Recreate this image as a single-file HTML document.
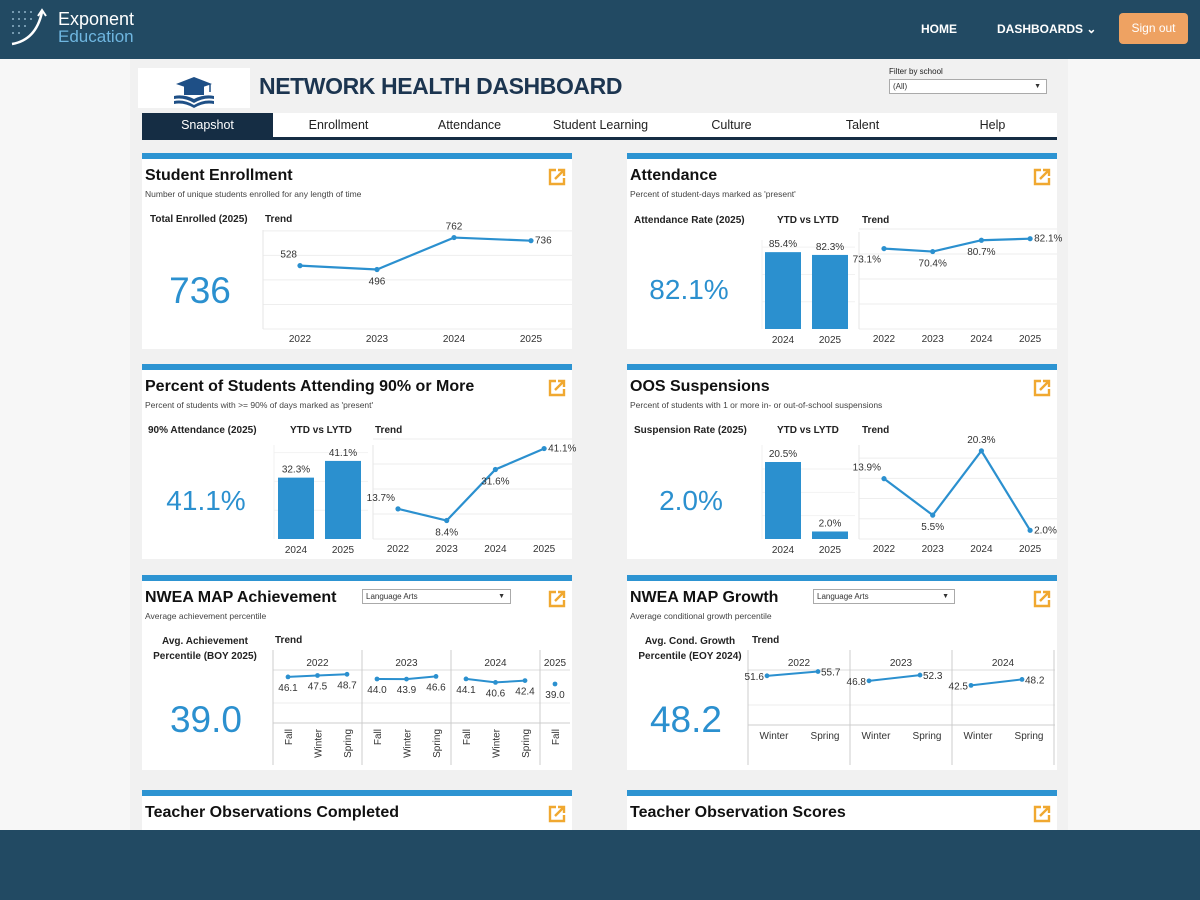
<!DOCTYPE html>
<html><head><meta charset="utf-8">
<style>
*{box-sizing:border-box;margin:0;padding:0}
body{width:1200px;height:900px;overflow:hidden;background:#f7f7f7;font-family:"Liberation Sans",sans-serif;position:relative;color:#222}
.abs{position:absolute}
#topbar{left:0;top:0;width:1200px;height:59px;background:#224a63}
#panel{left:130px;top:59px;width:938px;height:780px;background:#f1f1f1}
#bottom{left:0;top:830px;width:1200px;height:70px;background:#224a63}
.card{position:absolute;width:430px;background:#fff}
.stripe{position:absolute;left:0;top:0;width:100%;height:6px;background:#2d94d2}
.ttl{position:absolute;left:3px;top:14px;font-size:16px;font-weight:bold;color:#111;white-space:nowrap}
.sub{position:absolute;left:3px;top:36px;font-size:8.5px;color:#444;white-space:nowrap}
.kl{position:absolute;font-size:10px;font-weight:bold;color:#222;white-space:nowrap}
.big{position:absolute;font-size:37px;color:#2b90cf;text-align:center;width:130px}
.tab{position:absolute;top:113px;height:24px;width:131px;font-size:12.5px;text-align:center;line-height:24px;color:#222;background:#fff}
.dd{position:absolute;height:15px;border:1px solid #aaa;background:#fff;font-size:8px;line-height:13px;padding-left:3px;color:#333}
.dd span{position:absolute;right:5px;top:0;font-size:7px}
</style></head><body>
<div id="topbar" class="abs"></div>
<div class="abs" style="left:10px;top:8px;width:140px;height:40px">
<svg width="44" height="40" style="position:absolute;left:0;top:0">
<g fill="#8fb3c8"><circle cx="3" cy="4" r="1"/><circle cx="9" cy="4" r="1"/><circle cx="15" cy="4" r="1"/><circle cx="21" cy="4" r="1"/><circle cx="3" cy="11" r="1"/><circle cx="9" cy="11" r="1"/><circle cx="15" cy="11" r="1"/><circle cx="21" cy="11" r="1"/><circle cx="3" cy="18" r="1"/><circle cx="9" cy="18" r="1"/><circle cx="15" cy="18" r="1"/><circle cx="3" cy="25" r="1"/><circle cx="9" cy="25" r="1"/></g>
<path d="M2 36 Q26 32 32 4" stroke="#fff" stroke-width="2.5" fill="none"/><path d="M28 8 L32 2 L36 8" stroke="#fff" stroke-width="2" fill="none"/></svg>
<div style="position:absolute;left:48px;top:1px;color:#fff;font-size:18px">Exponent</div>
<div style="position:absolute;left:48px;top:19px;color:#6fb6e0;font-size:17px">Education</div>
</div>
<div class="abs" style="left:921px;top:22px;color:#fff;font-size:12px;font-weight:bold">HOME</div>
<div class="abs" style="left:997px;top:22px;color:#fff;font-size:12px;font-weight:bold">DASHBOARDS &#8964;</div>
<div class="abs" style="left:1119px;top:13px;width:69px;height:31px;background:#eea262;border-radius:4px;color:#fff;font-size:12px;text-align:center;line-height:31px">Sign out</div>

<div id="panel" class="abs"></div>
<div class="abs" style="left:138px;top:68px;width:112px;height:40px;background:#fff">
<svg width="112" height="40"><path d="M38 16 L56 9 L74 16 L56 22 Z" fill="#1e4f86"/><rect x="46" y="18" width="20" height="9" fill="#1e4f86"/><line x1="72" y1="16" x2="72" y2="24" stroke="#1e4f86" stroke-width="1.5"/><path d="M36 28 Q46 26 56 31 Q66 26 76 28 L76 31 Q66 29 56 35 Q46 29 36 31Z" fill="#1e4f86"/><path d="M36 33 Q46 31 56 37 Q66 31 76 33 L76 36 Q66 34 56 40 Q46 34 36 36Z" fill="#1e4f86"/></svg></div>
<div class="abs" style="left:259px;top:73px;font-size:23px;font-weight:bold;color:#1c3550;letter-spacing:-0.4px">NETWORK HEALTH DASHBOARD</div>
<div class="abs" style="left:889px;top:67px;font-size:8px;color:#222">Filter by school</div>
<div class="dd" style="left:889px;top:79px;width:158px">(All)<span>▼</span></div>

<div class="tab" style="left:142px;background:#152d44;color:#fff">Snapshot</div>
<div class="tab" style="left:273px">Enrollment</div>
<div class="tab" style="left:404px">Attendance</div>
<div class="tab" style="left:535px">Student Learning</div>
<div class="tab" style="left:666px">Culture</div>
<div class="tab" style="left:797px">Talent</div>
<div class="tab" style="left:928px;width:129px">Help</div>
<div class="abs" style="left:142px;top:137px;width:915px;height:3px;background:#152d44"></div>

<div class="card" style="left:142px;top:153px;height:196px"><div class="stripe"></div><div class="ttl">Student Enrollment</div><div class="sub">Number of unique students enrolled for any length of time</div><div class="kl" style="left:8px;top:61px">Total Enrolled (2025)</div><div class="kl" style="left:123px;top:61px">Trend</div><div class="big" style="left:-7px;top:117px">736</div></div>
<div class="card" style="left:627px;top:153px;height:196px"><div class="stripe"></div><div class="ttl">Attendance</div><div class="sub">Percent of student-days marked as 'present'</div><div class="kl" style="left:7px;top:62px">Attendance Rate (2025)</div><div class="kl" style="left:150px;top:62px">YTD vs LYTD</div><div class="kl" style="left:235px;top:62px">Trend</div><div class="big" style="left:-3px;top:121px;font-size:28px">82.1%</div></div>
<div class="card" style="left:142px;top:364px;height:195px"><div class="stripe"></div><div class="ttl">Percent of Students Attending 90% or More</div><div class="sub">Percent of students with &gt;= 90% of days marked as 'present'</div><div class="kl" style="left:6px;top:61px">90% Attendance (2025)</div><div class="kl" style="left:148px;top:61px">YTD vs LYTD</div><div class="kl" style="left:233px;top:61px">Trend</div><div class="big" style="left:-1px;top:121px;font-size:28px">41.1%</div></div>
<div class="card" style="left:627px;top:364px;height:195px"><div class="stripe"></div><div class="ttl">OOS Suspensions</div><div class="sub">Percent of students with 1 or more in- or out-of-school suspensions</div><div class="kl" style="left:7px;top:61px">Suspension Rate (2025)</div><div class="kl" style="left:150px;top:61px">YTD vs LYTD</div><div class="kl" style="left:235px;top:61px">Trend</div><div class="big" style="left:-1px;top:121px;font-size:28px">2.0%</div></div>
<div class="card" style="left:142px;top:575px;height:195px"><div class="stripe"></div><div class="ttl">NWEA MAP Achievement</div><div class="sub">Average achievement percentile</div><div class="kl" style="left:8px;top:59px;text-align:center;line-height:15px;width:110px">Avg. Achievement<br>Percentile (BOY 2025)</div><div class="kl" style="left:133px;top:60px">Trend</div><div class="big" style="left:-1px;top:124px">39.0</div></div>
<div class="dd" style="left:362px;top:589px;width:149px">Language Arts<span>▼</span></div>
<div class="card" style="left:627px;top:575px;height:195px"><div class="stripe"></div><div class="ttl">NWEA MAP Growth</div><div class="sub">Average conditional growth percentile</div><div class="kl" style="left:8px;top:59px;text-align:center;line-height:15px;width:110px">Avg. Cond. Growth<br>Percentile (EOY 2024)</div><div class="kl" style="left:125px;top:60px">Trend</div><div class="big" style="left:-6px;top:124px">48.2</div></div>
<div class="dd" style="left:813px;top:589px;width:142px">Language Arts<span>▼</span></div>
<div class="card" style="left:142px;top:790px;height:60px"><div class="stripe"></div><div class="ttl">Teacher Observations Completed</div></div>
<div class="card" style="left:627px;top:790px;height:60px"><div class="stripe"></div><div class="ttl">Teacher Observation Scores</div></div>
<div id="bottom" class="abs"></div>

<svg id="ov" class="abs" style="left:0;top:0;pointer-events:none" width="1200" height="830" font-family="Liberation Sans, sans-serif" font-size="10"></svg>

<script>
const enrollYears=['2022','2023','2024','2025'];
const enrollVals=[528,496,762,736];
const attBarCats=['2024','2025'];
const attBarVals=[85.4,82.3];
const attTrendYears=['2022','2023','2024','2025'];
const attTrendVals=[73.1,70.4,80.7,82.1];
const p90BarCats=['2024','2025'];
const p90BarVals=[32.3,41.1];
const p90TrendYears=['2022','2023','2024','2025'];
const p90TrendVals=[13.7,8.4,31.6,41.1];
const suspBarCats=['2024','2025'];
const suspBarVals=[20.5,2.0];
const suspTrendYears=['2022','2023','2024','2025'];
const suspTrendVals=[13.9,5.5,20.3,2.0];
const achYears=['2022','2023','2024','2025'];
const achSeasons=[['Fall','Winter','Spring'],['Fall','Winter','Spring'],['Fall','Winter','Spring'],['Fall']];
const achVals=[[46.1,47.5,48.7],[44.0,43.9,46.6],[44.1,40.6,42.4],[39.0]];
const growYears=['2022','2023','2024'];
const growSeasons=['Winter','Spring'];
const growVals=[[51.6,55.7],[46.8,52.3],[42.5,48.2]];

const NS='http://www.w3.org/2000/svg';
const ov=document.getElementById('ov');
const BLUE='#2b90cf';
function mk(tag,a,p){const e=document.createElementNS(NS,tag);for(const k in a)e.setAttribute(k,a[k]);(p||ov).appendChild(e);return e;}
function txt(s,x,y,a,p){const t=mk('text',Object.assign({x:x,y:y,fill:'#333','text-anchor':'middle'},a||{}),p);t.textContent=s;return t;}
function line(x1,y1,x2,y2,c,p){return mk('line',{x1:x1,y1:y1,x2:x2,y2:y2,stroke:c||'#eee','stroke-width':1},p);}

function lineChart(name,cats,vals,box,fmt,firstBelow){
  const g=mk('g',{});
  
  
  const max=box.max;
  const xs=i=>box.x0+i*box.step;
  const ys=v=>box.base-(v/max)*box.h;
  for(let k=0;k<5;k++)line(box.l,box.base-k*box.h/4.4,box.r,box.base-k*box.h/4.4,'#eee',g);
  line(box.l,box.top,box.l,box.base,'#e6e6e6',g);
  let d='';
  vals.forEach((v,i)=>{d+=(i?'L':'M')+xs(i)+' '+ys(v);});
  const pth=mk('path',{d:d,stroke:BLUE,'stroke-width':2.2,fill:'none'},g);
  
  
  vals.forEach((v,i)=>{
    const c=mk('circle',{cx:xs(i),cy:ys(v),r:2.6,fill:BLUE},g);
    
    
    const prev=i>0?vals[i-1]:null,next=i<vals.length-1?vals[i+1]:null;
    const nb=[prev,next].filter(x=>x!==null);
    const high=nb.every(x=>v>=x);
    let lx=xs(i),ly=high?ys(v)-8:ys(v)+15,an='middle';
    if(i===0){lx=xs(i)-3;an='end';ly=firstBelow?ys(v)+14:(high?ys(v)-8:ys(v)+4);}
    if(i===vals.length-1){lx=xs(i)+4;an='start';ly=ys(v)+3;}
    txt(fmt(v),lx,ly,{'text-anchor':an},g);
    txt(cats[i],xs(i),box.base+13,{},g);
  });
}
function barChart(name,cats,vals,box,fmt){
  const g=mk('g',{});
  
  
  line(box.l,box.top,box.l,box.base,'#f0f0f0',g);
  for(let k=1;k<4;k++)line(box.l,box.base-k*box.h/3.3,box.r,box.base-k*box.h/3.3,'#f2f2f2',g);
  vals.forEach((v,i)=>{
    const x=box.x0+i*box.step,hgt=v/box.max*box.h;
    const r=mk('rect',{x:x,y:box.base-hgt,width:box.w,height:hgt,fill:BLUE},g);
    
    
    txt(fmt(v),x+box.w/2,box.base-hgt-5,{},g);
    txt(cats[i],x+box.w/2,box.base+14,{},g);
  });
}
const pct=v=>v.toFixed(1)+'%';
lineChart('enrollment-trend',enrollYears,enrollVals,{x0:300,step:77,base:329,h:108,max:900,l:263,r:572,top:230},v=>String(v));
barChart('attendance-ytd-bars',attBarCats,attBarVals,{x0:765,step:47,w:36,base:329,h:90,max:100,l:762,r:855,top:240},pct);
lineChart('attendance-trend',attTrendYears,attTrendVals,{x0:884,step:48.7,base:329,h:110,max:100,l:859,r:1057,top:232},pct,true);
barChart('attending90-ytd-bars',p90BarCats,p90BarVals,{x0:278,step:47,w:36,base:539,h:95,max:50,l:274,r:368,top:445},pct);
lineChart('attending90-trend',p90TrendYears,p90TrendVals,{x0:398,step:48.7,base:539,h:110,max:50,l:373,r:572,top:445},pct);
barChart('suspension-ytd-bars',suspBarCats,suspBarVals,{x0:765,step:47,w:36,base:539,h:77,max:20.5,l:762,r:855,top:445},pct);
lineChart('suspension-trend',suspTrendYears,suspTrendVals,{x0:884,step:48.7,base:539,h:89,max:20.5,l:859,r:1057,top:445},pct);

(function(){
  const g=mk('g',{});
  
  
  const L=273,R=570,top=650,hdr=670,bot=723,end=765;
  const ys=v=>top+73-v*1.0;
  line(L,hdr,R,hdr,'#ddd',g);line(L,703,R,703,'#eee',g);line(L,bot,R,bot,'#ccc',g);
  line(L,top,L,end,'#ccc',g);
  let x=L;const step=29.5;
  achYears.forEach((yr,gi)=>{
    const n=achSeasons[gi].length;
    const gx0=x, gw=n===3?89:30;
    txt(yr,gx0+gw/2,666,{},g);
    let d='';
    achVals[gi].forEach((v,i)=>{
      const px=gx0+15+i*step,py=ys(v);
      d+=(i?'L':'M')+px+' '+py;
      const c=mk('circle',{cx:px,cy:py,r:2.4,fill:BLUE},g);
      
      
      txt(v.toFixed(1),px,py+14,{},g);
      txt(achSeasons[gi][i],0,0,{transform:'translate('+(px+4)+','+(bot+6)+') rotate(-90)','text-anchor':'end'},g);
    });
    if(achVals[gi].length>1){const p=mk('path',{d:d,stroke:BLUE,'stroke-width':2,fill:'none'},g);
      
      }
    x+=gw;
    if(gi<achYears.length-1)line(x,top,x,end,'#ccc',g);
  });
})();
(function(){
  const g=mk('g',{});
  
  
  const L=748,R=1055,top=650,hdr=670,bot=725,end=765,gw=102;
  const ys=v=>top+80-v*1.05;
  line(L,hdr,R,hdr,'#ddd',g);line(L,705,R,705,'#eee',g);line(L,bot,R,bot,'#ccc',g);
  line(L,top,L,end,'#ccc',g);
  growYears.forEach((yr,gi)=>{
    const gx0=L+gi*gw;
    txt(yr,gx0+gw/2,666,{},g);
    let d='';
    growVals[gi].forEach((v,i)=>{
      const px=gx0+19+i*51,py=ys(v);
      d+=(i?'L':'M')+px+' '+py;
      const c=mk('circle',{cx:px,cy:py,r:2.4,fill:BLUE},g);
      
      
      txt(v.toFixed(1),i?px+3:px-3,py+4,{'text-anchor':i?'start':'end'},g);
      txt(growSeasons[i],px+7,739,{},g);
    });
    const p=mk('path',{d:d,stroke:BLUE,'stroke-width':2,fill:'none'},g);
    
    
    line(gx0+gw,top,gx0+gw,end,'#ccc',g);
  });
})();
[[548,168],[1033,168],[548,379],[1033,379],[548,590],[1033,590],[548,805],[1033,805]].forEach(function(p){
  const g=mk('g',{transform:'translate('+p[0]+','+p[1]+')'});
  
  
  mk('path',{d:'M8 2 H2 V16 H16 V10',stroke:'#f0a830','stroke-width':2.4,fill:'none'},g);
  mk('path',{d:'M7 11 L16 2 M10 2 H16 V8',stroke:'#f0a830','stroke-width':2.4,fill:'none'},g);
});
</script>
</body></html>
